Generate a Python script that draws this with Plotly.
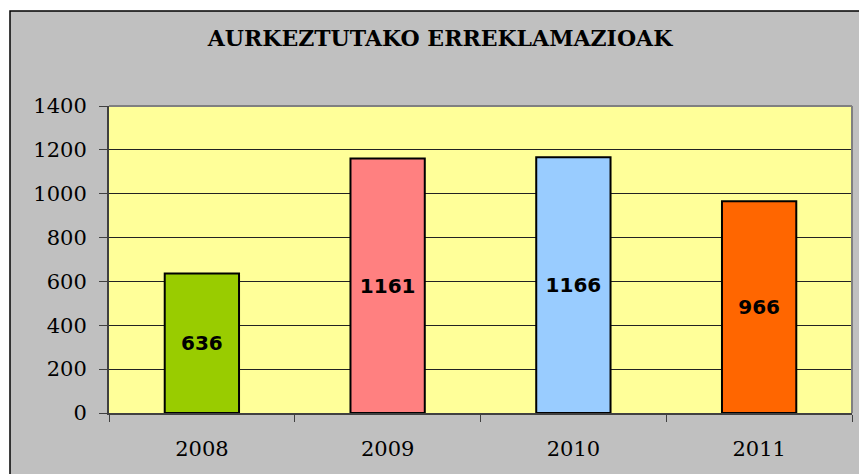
import plotly.graph_objects as go

years = ["2008", "2009", "2010", "2011"]
values = [636, 1161, 1166, 966]
bar_colors = ["#99CC00", "#FF8080", "#99CCFF", "#FF6600"]
y_ticks = [0, 200, 400, 600, 800, 1000, 1200, 1400]
title_text = "AURKEZTUTAKO ERREKLAMAZIOAK"

W, H = 859, 474
L, R, T, B = 109, 7, 106, 61
pw, ph = W - L - R, H - T - B


def px_x(p):
    return (p - L) / pw


def px_y(p):
    return (H - B - p) / ph


fig = go.Figure(
    go.Bar(
        x=years,
        y=values,
        width=0.4,
        marker=dict(color=bar_colors, line=dict(color="black", width=2)),
        text=[str(v) for v in values],
        textposition="inside",
        insidetextanchor="middle",
        textangle=0,
        textfont=dict(family="DejaVu Sans", size=20, color="black", weight="bold"),
        hoverinfo="skip",
    )
)

shapes = [
    # grey chart area with black border
    dict(type="rect", xref="paper", yref="paper", layer="below",
         x0=px_x(10), x1=px_x(900), y0=px_y(520), y1=px_y(11),
         fillcolor="#C0C0C0", line=dict(color="black", width=1.5)),
    # yellow plot area
    dict(type="rect", xref="paper", yref="paper", layer="below",
         x0=0, x1=1, y0=0, y1=1, fillcolor="#FFFF99", line=dict(width=0)),
    # plot area top and right border
    dict(type="line", xref="paper", yref="paper", layer="above",
         x0=0, x1=1, y0=1, y1=1, line=dict(color="#808080", width=2)),
    dict(type="line", xref="paper", yref="paper", layer="above",
         x0=1, x1=1, y0=0, y1=1, line=dict(color="#808080", width=2)),
]

fig.update_layout(
    width=W,
    height=H,
    margin=dict(l=L, r=R, t=T, b=B, pad=0),
    paper_bgcolor="white",
    plot_bgcolor="rgba(0,0,0,0)",
    showlegend=False,
    bargap=0.6,
    shapes=shapes,
    title=dict(
        text=title_text,
        x=440 / W, xref="container", xanchor="center",
        y=1 - 38 / H, yref="container", yanchor="middle",
        font=dict(family="DejaVu Serif", size=22, color="black", weight="bold"),
    ),
    xaxis=dict(
        type="category",
        showline=True, linecolor="#404040", linewidth=2,
        ticks="outside", tickson="boundaries", ticklen=7, tickcolor="#404040", tickwidth=1,
        showgrid=False,
        tickfont=dict(family="DejaVu Serif", size=21, color="black"),
        ticklabelstandoff=16,
    ),
    yaxis=dict(
        range=[0, 1400],
        tickvals=y_ticks,
        ticktext=[str(v) for v in y_ticks],
        showline=True, linecolor="#404040", linewidth=2,
        ticks="outside", ticklen=8, tickcolor="#404040", tickwidth=1,
        showgrid=True, gridcolor="#222222", gridwidth=1,
        zeroline=False,
        tickfont=dict(family="DejaVu Serif", size=21, color="black"),
        ticklabelstandoff=8,
    ),
)

fig.write_html(
    "out.html",
    config={"displayModeBar": False},
    post_script="document.body.style.margin='0';",
)
